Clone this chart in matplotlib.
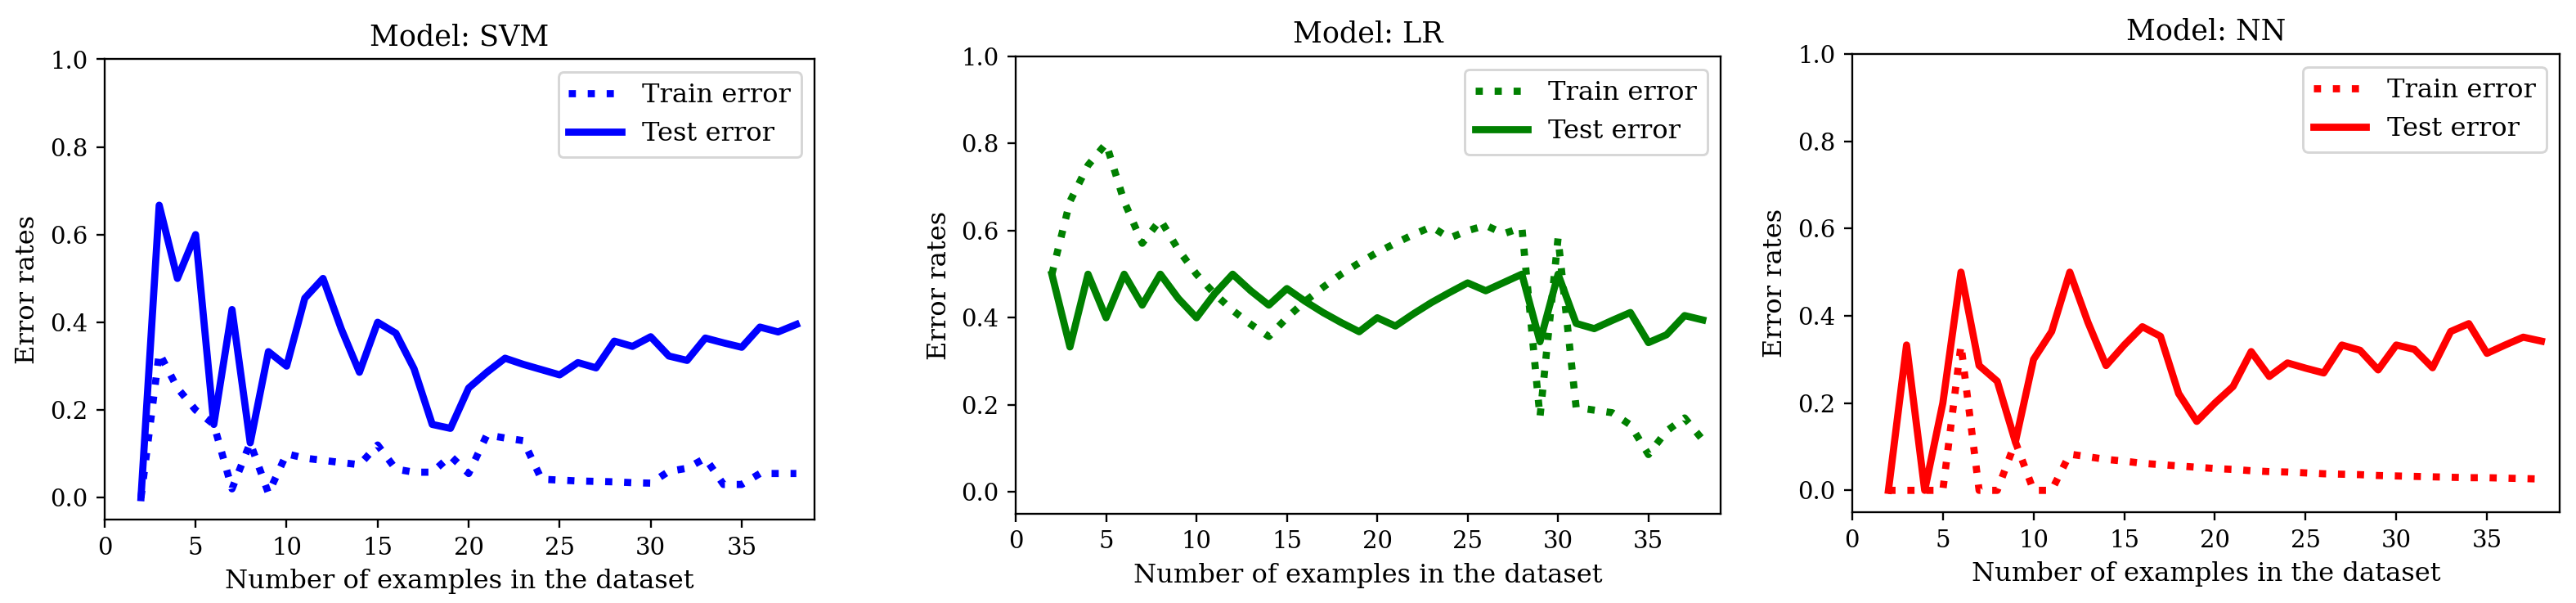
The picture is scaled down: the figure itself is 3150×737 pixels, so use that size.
import matplotlib
matplotlib.use('Agg')
import matplotlib.pyplot as plt

plt.rcParams['font.family'] = 'serif'

# number of examples used for each run
n_examples = list(range(2, 39))

svm_train = [0, 0.33, 0.25, 0.2, 0.167, 0.02, 0.125, 0.01, 0.1, 0.09, 0.085, 0.08, 0.075,
             0.12, 0.065, 0.058, 0.058, 0.095, 0.055, 0.143, 0.136, 0.13, 0.042, 0.04,
             0.038, 0.037, 0.036, 0.034, 0.033, 0.06, 0.067, 0.09, 0.03, 0.03, 0.055,
             0.055, 0.055]
svm_test = [0, 0.667, 0.5, 0.6, 0.167, 0.429, 0.125, 0.333, 0.3, 0.455, 0.5, 0.385, 0.286,
            0.4, 0.375, 0.294, 0.167, 0.158, 0.25, 0.286, 0.318, 0.304, 0.292, 0.28,
            0.308, 0.296, 0.357, 0.345, 0.367, 0.323, 0.313, 0.364, 0.353, 0.343, 0.389,
            0.378, 0.395]

lr_train = [0.5, 0.667, 0.75, 0.8, 0.667, 0.571, 0.625, 0.556, 0.5, 0.455, 0.417, 0.385,
            0.357, 0.4, 0.4375, 0.47, 0.5, 0.526, 0.55, 0.571, 0.591, 0.609, 0.583, 0.6,
            0.612, 0.593, 0.607, 0.172, 0.583, 0.194, 0.188, 0.182, 0.154, 0.086, 0.14,
            0.17, 0.12]
lr_test = [0.5, 0.333, 0.5, 0.4, 0.5, 0.429, 0.5, 0.444, 0.4, 0.455, 0.5, 0.462, 0.429,
           0.467, 0.438, 0.412, 0.389, 0.368, 0.4, 0.381, 0.409, 0.435, 0.458, 0.48,
           0.462, 0.481, 0.5, 0.345, 0.5, 0.387, 0.375, 0.394, 0.412, 0.343, 0.361,
           0.405, 0.395]

nn_train = [0, 0, 0, 0, 0.333, 0, 0, 0.111, 0, 0, 0.083, 0.077, 0.071, 0.067, 0.062,
            0.059, 0.056, 0.053, 0.05, 0.048, 0.045, 0.043, 0.042, 0.04, 0.038, 0.037,
            0.036, 0.034, 0.033, 0.032, 0.031, 0.03, 0.029, 0.029, 0.028, 0.027, 0.026]
nn_test = [0, 0.333, 0, 0.2, 0.5, 0.286, 0.25, 0.111, 0.3, 0.364, 0.5, 0.385, 0.286,
           0.333, 0.375, 0.353, 0.222, 0.158, 0.2, 0.238, 0.318, 0.261, 0.292, 0.28,
           0.269, 0.333, 0.321, 0.276, 0.333, 0.323, 0.281, 0.364, 0.382, 0.314, 0.333,
           0.351, 0.342]

models = ['SVM', 'LR', 'NN']
colors = ['blue', 'green', 'red']
train_errors = [svm_train, lr_train, nn_train]
test_errors = [svm_test, lr_test, nn_test]

boxes = [[0.0406, 0.1384, 0.2756, 0.7632],
         [0.3943, 0.1479, 0.2737, 0.7585],
         [0.7190, 0.1506, 0.2746, 0.7598]]

fig = plt.figure(figsize=(15, 3.51), dpi=210)
for i in range(3):
    ax = fig.add_axes(boxes[i])
    ax.plot(n_examples, train_errors[i], ':', color=colors[i], lw=3, label='Train error')
    ax.plot(n_examples, test_errors[i], '-', color=colors[i], lw=3, label='Test error')
    ax.set_xlim(0, 39)
    ax.set_ylim(-0.05, 1.0)
    ax.set_xticks(range(0, 36, 5))
    ax.set_title('Model: ' + models[i], fontsize=12)
    ax.set_xlabel('Number of examples in the dataset', fontsize=11)
    ax.set_ylabel('Error rates', fontsize=11)
    ax.tick_params(labelsize=10)
    ax.legend(loc='upper right', fontsize=11)

fig.savefig('out.png', dpi=210)
